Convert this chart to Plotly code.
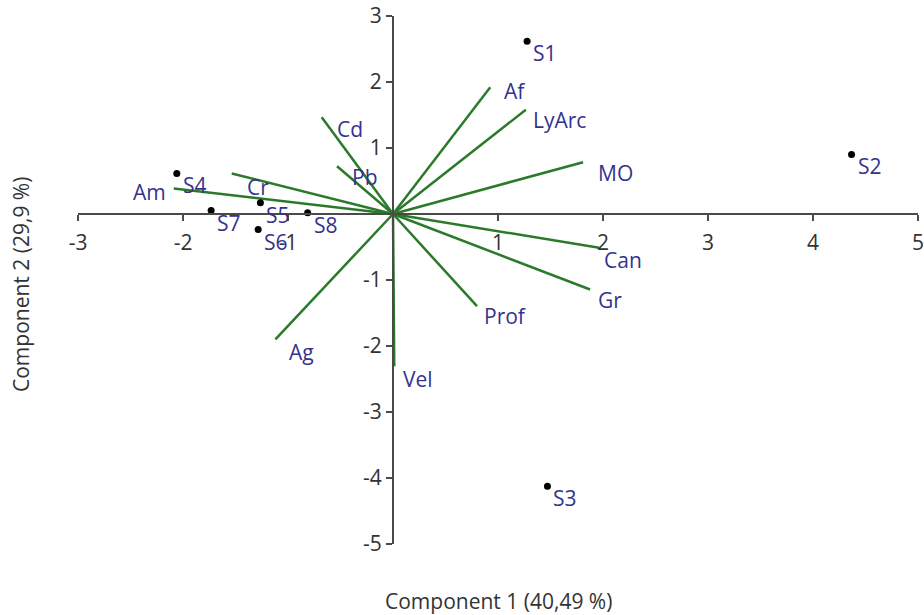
import plotly.graph_objects as go

# PCA biplot: sample scores and variable loadings on the first two components
sample_names = ["S1", "S2", "S3", "S4", "S5", "S6", "S7", "S8"]
sample_pc1 = [1.277, 4.367, 1.471, -2.059, -1.263, -1.284, -1.732, -0.813]
sample_pc2 = [2.618, 0.902, -4.124, 0.614, 0.170, -0.235, 0.053, 0.018]

var_names = ["Af", "LyArc", "MO", "Can", "Gr", "Prof", "Vel", "Ag", "Am", "Cr", "Pb", "Cd"]
var_pc1 = [0.926, 1.265, 1.810, 1.963, 1.877, 0.800, 0.012, -1.120, -2.088, -1.536, -0.533, -0.679]
var_pc2 = [1.920, 1.580, 0.785, -0.512, -1.144, -1.397, -2.306, -1.900, 0.386, 0.614, 0.724, 1.467]

x_ticks = [-3, -2, -1, 1, 2, 3, 4, 5]
y_ticks = [3, 2, 1, -1, -2, -3, -4, -5]
x_title = "Component 1 (40,49 %)"
y_title = "Component 2 (29,9 %)"

FONT = "Open Sans"
FS = 21
LABEL_COLOR = "#33338f"
AXIS_COLOR = "#4a4a4a"
VEC_COLOR = "#2a7a2a"

# label offsets in pixels (right, down) from the point they name
sample_offset = (4, 12)
var_offset = {
    "Af": (12, 4), "LyArc": (5, 10), "MO": (13, 11), "Can": (3, 12),
    "Gr": (6, 10), "Prof": (5, 10), "Vel": (7, 13), "Ag": (12, 13),
    "Cr": (13, 14), "Pb": (13, 11), "Cd": (13, 12),
}

fig = go.Figure()

# loading vectors from the origin
vx, vy = [], []
for x, y in zip(var_pc1, var_pc2):
    vx += [0, x, None]
    vy += [0, y, None]
fig.add_trace(go.Scatter(x=vx, y=vy, mode="lines",
                         line=dict(color=VEC_COLOR, width=2.5),
                         hoverinfo="skip", showlegend=False))

# sample scores
fig.add_trace(go.Scatter(x=sample_pc1, y=sample_pc2, mode="markers",
                         marker=dict(color="black", size=7),
                         text=sample_names, showlegend=False))

annotations = []
for name, x, y in zip(sample_names, sample_pc1, sample_pc2):
    dx, dy = sample_offset
    annotations.append(dict(x=x, y=y, text=name, showarrow=False,
                            xanchor="left", yanchor="middle",
                            xshift=dx, yshift=-dy,
                            font=dict(family=FONT, size=FS, color=LABEL_COLOR)))
for name, x, y in zip(var_names, var_pc1, var_pc2):
    if name == "Am":
        annotations.append(dict(x=x, y=y, text=name, showarrow=False,
                                xanchor="right", yanchor="middle",
                                xshift=-6, yshift=-3,
                                font=dict(family=FONT, size=FS, color=LABEL_COLOR)))
        continue
    dx, dy = var_offset[name]
    annotations.append(dict(x=x, y=y, text=name, showarrow=False,
                            xanchor="left", yanchor="middle",
                            xshift=dx, yshift=-dy,
                            font=dict(family=FONT, size=FS, color=LABEL_COLOR)))

# axis titles
annotations.append(dict(x=0.5, y=0, xref="paper", yref="paper", yshift=-57,
                        text=x_title, showarrow=False, xanchor="center", yanchor="middle",
                        font=dict(family=FONT, size=FS, color="#333")))
annotations.append(dict(x=0, y=0.5, xref="paper", yref="paper", xshift=-57, yshift=-5,
                        text=y_title, showarrow=False, textangle=-90,
                        xanchor="center", yanchor="middle",
                        font=dict(family=FONT, size=FS, color="#333")))

x_range = [-3, 5]
y_range = [-5, 3]

fig.update_layout(
    width=924, height=615,
    margin=dict(l=77.5, r=5.5, t=16, b=70.5, autoexpand=False),
    paper_bgcolor="white", plot_bgcolor="white",
    font=dict(family=FONT, size=FS, color="#333"),
    annotations=annotations,
    xaxis=dict(range=x_range, anchor="free", automargin=False,
               position=(0 - y_range[0]) / (y_range[1] - y_range[0]),
               tickvals=x_ticks, ticktext=[str(t) for t in x_ticks],
               ticks="outside", ticklen=6, tickwidth=1.5, tickcolor=AXIS_COLOR,
               ticklabelstandoff=4, ticklabeloverflow="allow",
               showline=True, linecolor=AXIS_COLOR, linewidth=2,
               showgrid=False, zeroline=False,
               tickfont=dict(family=FONT, size=FS, color="#333")),
    yaxis=dict(range=y_range, anchor="free", automargin=False,
               position=(0 - x_range[0]) / (x_range[1] - x_range[0]),
               tickvals=y_ticks, ticktext=[str(t) for t in y_ticks],
               ticks="outside", ticklen=6, tickwidth=1.5, tickcolor=AXIS_COLOR,
               ticklabeloverflow="allow",
               showline=True, linecolor=AXIS_COLOR, linewidth=2,
               showgrid=False, zeroline=False,
               tickfont=dict(family=FONT, size=FS, color="#333")),
)

fig.write_html("out.html")
